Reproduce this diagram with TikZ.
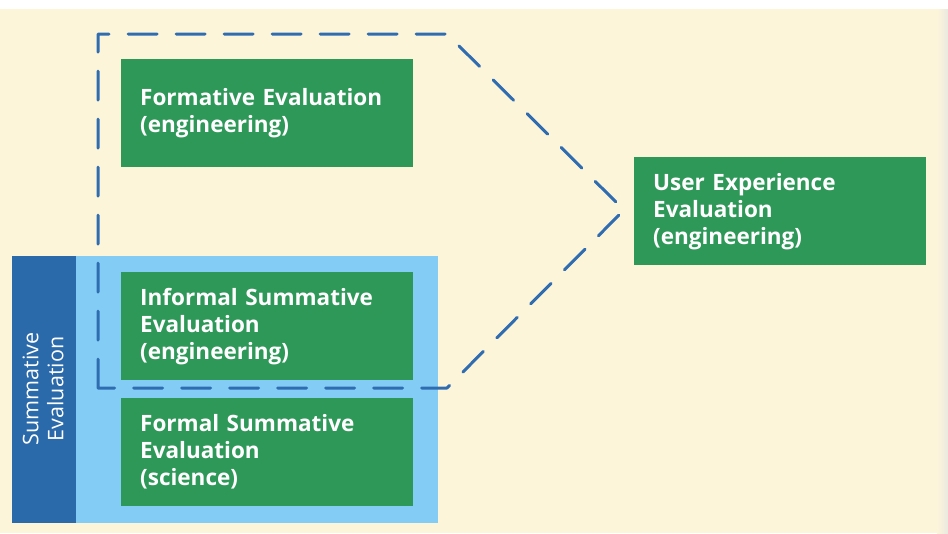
\documentclass[tikz,border=0pt]{standalone}
\usepackage{fontspec}
\setmainfont{Open Sans}
\definecolor{cream}{HTML}{FDF5DA}
\definecolor{boxgreen}{HTML}{2E9858}
\definecolor{lightblue}{HTML}{82CCF6}
\definecolor{darkblue}{HTML}{2A69AA}
\definecolor{dashblue}{HTML}{2F6CB0}
\begin{document}
\begin{tikzpicture}[x=1pt,y=-1pt,
  evbox/.style={fill=boxgreen, text=white, font=\bfseries\fontsize{22.5}{27}\selectfont,
    minimum width=292pt, minimum height=108pt, text width=254pt, inner xsep=19pt,
    align=left, anchor=north west, inner ysep=0pt},
  bracket/.style={draw=dashblue, line width=3pt, dash pattern=on 29pt off 19pt, line cap=round, line join=round}
]
\useasboundingbox (0,0) rectangle (948,533);
\fill[white] (0,0) rectangle (948,533);
\fill[cream] (0,9) rectangle (948,533);
\shade[left color=cream, right color=cream!80!black!40] (937,9) rectangle (948,533);
% summative panel
\node[fill=lightblue, minimum width=426pt, minimum height=267pt, anchor=north west, inner sep=0pt] (panel) at (12,256) {};
\node[fill=darkblue, minimum width=64pt, minimum height=267pt, anchor=north west, inner sep=0pt] (strip) at (12,256) {};
\node[text=white, rotate=90, align=center, font=\fontsize{21.5}{25}\selectfont] (sumlabel) at (43,389) {Summative\\Evaluation};
% boxes
\node[evbox] (form) at (121,59) {Formative Evaluation\\(engineering)};
\node[evbox] (inf) at (121,272) {Informal Summative\\Evaluation\\(engineering)};
\node[evbox] (fsum) at (121,398) {Formal Summative\\Evaluation\\(science)};
\node[evbox] (ux) at (634,157) {User Experience\\Evaluation\\(engineering)};
% dashed bracket
\coordinate (tl) at (98,34);
\coordinate (tr) at (447,34);
\coordinate (tip) at (624,210);
\coordinate (br) at (447,388);
\coordinate (bl) at (98,388);
\draw[bracket] (bl) -- (tl) -- (tr) -- (tip) -- (br) -- (bl);
\end{tikzpicture}
\end{document}
